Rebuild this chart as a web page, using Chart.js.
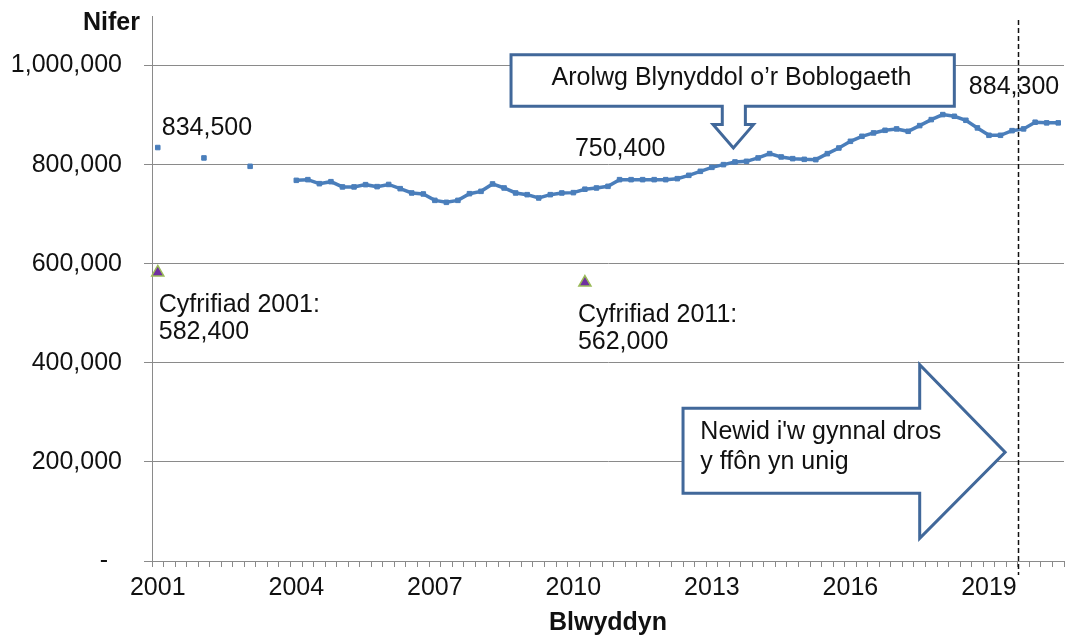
<!DOCTYPE html>
<html>
<head>
<meta charset="utf-8">
<script src="https://cdn.jsdelivr.net/npm/chart.js@4.4.1/dist/chart.umd.min.js"></script>
<style>
html,body{margin:0;padding:0;background:#fff;}
#wrap{width:1065px;height:638px;position:relative;}
</style>
</head>
<body>
<div id="wrap"><canvas id="c"></canvas></div>
<script>
// ---- data ----
const firstYear = 2001;
const quarterCount = 79;
const yearTickLabels = ['2001','2004','2007','2010','2013','2016','2019'];
const categories = [];
for (let i = 0; i < quarterCount; i++) {
  categories.push((firstYear + Math.floor(i / 4)) + ' Ch' + (i % 4 + 1));
}

// Annual Population Survey (annual points 2001-2003, then rolling quarterly)
const apsValues = [
  834500, null, null, null, 813500, null, null, null, 796600, null, null, null,
  768300, 769700, 761600, 765600, 755000, 755000, 759600, 755600, 760000, 751500, 742800, 740800,
  727900, 723900, 727900, 741400, 746100, 761000, 752900, 742800, 739400, 732700, 739400, 742800,
  743500, 750400, 752900, 756200, 769700, 769700, 769700, 769700, 769700, 771700, 778400, 786500,
  794500, 800000, 805400, 806700, 813500, 822200, 815500, 812100, 810700, 810100, 822200, 833600,
  847100, 857200, 864000, 869300, 872100, 867300, 878800, 890900, 901000, 897600, 889500, 874100,
  859200, 859200, 868600, 872100, 885600, 884300, 884300
];

// Census values
const censusValues = new Array(quarterCount).fill(null);
censusValues[0] = 582400;
censusValues[37] = 562000;
const censusNames = { 0: 'Cyfrifiad 2001:', 37: 'Cyfrifiad 2011:' };

const apsLabelIdx = [0, 37, 78];
const dashedBoundary = 74.5;   // change of survey mode

const yMin = 0, yMax = 1100000;
const yTickValues = [0, 200000, 400000, 600000, 800000, 1000000];

// ---- styles ----
const FONT = '"Liberation Sans", Arial, sans-serif';
const TEXT = '#111111';
const GRID = '#8a8a8a';
const BLUE = '#4a7ebb';
const SHAPE = '#41689a';

const fmt = v => v.toLocaleString('en-GB');

const overlay = {
  id: 'overlay',
  afterDatasetsDraw(chart) {
    const { ctx, chartArea: a, scales: { x, y } } = chart;
    const X = i => x.getPixelForValue(i);
    const Y = v => y.getPixelForValue(v);
    ctx.save();

    // dashed vertical line
    ctx.strokeStyle = '#111';
    ctx.lineWidth = 1.5;
    ctx.setLineDash([5, 3]);
    const dx = Math.round(X(dashedBoundary)) + 0.5;
    ctx.beginPath();
    ctx.moveTo(dx, a.top + 4);
    ctx.lineTo(dx, a.bottom + 14);
    ctx.stroke();
    ctx.setLineDash([]);

    // text labels
    ctx.fillStyle = TEXT;
    ctx.textBaseline = 'middle';
    ctx.font = '25px ' + FONT;
    apsLabelIdx.forEach(i => {
      const px = X(i), py = Y(apsValues[i]);
      const t = fmt(apsValues[i]);
      if (i === 0) { ctx.textAlign = 'left'; ctx.fillText(t, px + 4, py - 19); }
      else if (i === quarterCount - 1) { ctx.textAlign = 'right'; ctx.fillText(t, px + 1, py - 36); }
      else { ctx.textAlign = 'left'; ctx.fillText(t, px - 10, py - 40); }
    });
    Object.keys(censusNames).forEach(k => {
      const i = +k;
      const px = X(i), py = Y(censusValues[i]);
      ctx.textAlign = 'left';
      const lx = i === 0 ? px + 1 : px - 7;
      ctx.fillText(censusNames[k], lx, py + 33);
      ctx.fillText(fmt(censusValues[i]), lx, py + 60);
    });

    // callout with down arrow
    ctx.lineWidth = 3;
    ctx.lineJoin = 'miter';
    ctx.strokeStyle = SHAPE;
    ctx.fillStyle = '#ffffff';
    let L = X(30.6), R = X(69.0), T = Y(1022000), B = Y(918000);
    let sL = X(48.9), sR = X(50.9), SB = Y(880800), hl = X(48.1), hr = X(51.6);
    let tx = X(49.86), ty = Y(833700);
    ctx.beginPath();
    ctx.moveTo(L, T); ctx.lineTo(R, T); ctx.lineTo(R, B); ctx.lineTo(sR, B);
    ctx.lineTo(sR, SB); ctx.lineTo(hr, SB); ctx.lineTo(tx, ty); ctx.lineTo(hl, SB);
    ctx.lineTo(sL, SB); ctx.lineTo(sL, B); ctx.lineTo(L, B); ctx.closePath();
    ctx.fill(); ctx.stroke();
    ctx.fillStyle = TEXT;
    ctx.textAlign = 'center';
    ctx.fillText('Arolwg Blynyddol o\u2019r Boblogaeth', X(49.7), Y(975100));

    // big right arrow
    ctx.fillStyle = '#ffffff';
    const bL = X(45.5), bT = Y(308500), bB = Y(136800), hX = X(66.0);
    const hT = Y(396000), hB = Y(45900), tipX = X(73.4), tipY = Y(219600);
    ctx.beginPath();
    ctx.moveTo(bL, bT); ctx.lineTo(hX, bT); ctx.lineTo(hX, hT); ctx.lineTo(tipX, tipY);
    ctx.lineTo(hX, hB); ctx.lineTo(hX, bB); ctx.lineTo(bL, bB); ctx.closePath();
    ctx.fill(); ctx.stroke();
    ctx.fillStyle = TEXT;
    ctx.textAlign = 'left';
    ctx.fillText('Newid i\'w gynnal dros', X(47.0), Y(259200));
    ctx.fillText('y ffôn yn unig', X(47.0), Y(200600));

    // y-axis title
    ctx.font = 'bold 25px ' + FONT;
    ctx.textAlign = 'right';
    ctx.fillText('Nifer', a.left - 12, a.top + 7);

    ctx.restore();
  }
};

new Chart(document.getElementById('c'), {
  type: 'line',
  data: {
    labels: categories,
    datasets: [
      {
        label: 'Arolwg Blynyddol o\u2019r Boblogaeth',
        data: apsValues,
        borderColor: BLUE,
        backgroundColor: BLUE,
        borderWidth: 3.5,
        pointStyle: 'rect',
        pointRadius: 3.2,
        pointBorderWidth: 1,
        pointBorderColor: BLUE,
        pointBackgroundColor: BLUE,
        spanGaps: false,
        tension: 0
      },
      {
        label: 'Cyfrifiad',
        data: censusValues,
        showLine: false,
        pointStyle: 'triangle',
        pointRadius: 7,
        pointBackgroundColor: '#7030a0',
        pointBorderColor: '#9bbb59',
        pointBorderWidth: 1.5
      }
    ]
  },
  options: {
    responsive: true,
    maintainAspectRatio: false,
    animation: false,
    devicePixelRatio: 1,
    layout: { autoPadding: false, padding: { left: 0, right: 1, top: 16, bottom: 0 } },
    plugins: { legend: { display: false }, tooltip: { enabled: false } },
    scales: {
      x: {
        type: 'category',
        offset: true,
        afterFit(s) { s.height = 77; s.paddingLeft = 0; s.paddingRight = 0; },
        grid: { display: true, offset: true, drawOnChartArea: false, drawTicks: true, tickLength: 6, color: GRID, lineWidth: 1 },
        border: { display: true, color: GRID, width: 1 },
        ticks: {
          autoSkip: false, maxRotation: 0, minRotation: 0, padding: 6,
          color: TEXT, font: { family: FONT, size: 25 },
          callback: function (v, i) {
            const yr = String(firstYear + Math.floor(i / 4));
            return (i % 4 === 0 && yearTickLabels.includes(yr)) ? yr : '';
          }
        },
        title: { display: true, text: 'Blwyddyn', color: TEXT, font: { family: FONT, size: 25, weight: 'bold' }, padding: { top: 0, bottom: 0 } }
      },
      y: {
        min: yMin, max: yMax,
        afterFit(s) { s.width = 152; s.paddingTop = 0; s.paddingBottom = 0; },
        afterBuildTicks(s) { s.ticks = yTickValues.map(v => ({ value: v })); },
        grid: { color: GRID, lineWidth: 1, drawTicks: true, tickLength: 8 },
        border: { display: true, color: GRID, width: 1 },
        ticks: {
          padding: 22, color: TEXT, font: { family: FONT, size: 25 },
          callback: v => v === 0 ? '-  ' : fmt(v)
        }
      }
    }
  },
  plugins: [overlay]
});
</script>
</body>
</html>
